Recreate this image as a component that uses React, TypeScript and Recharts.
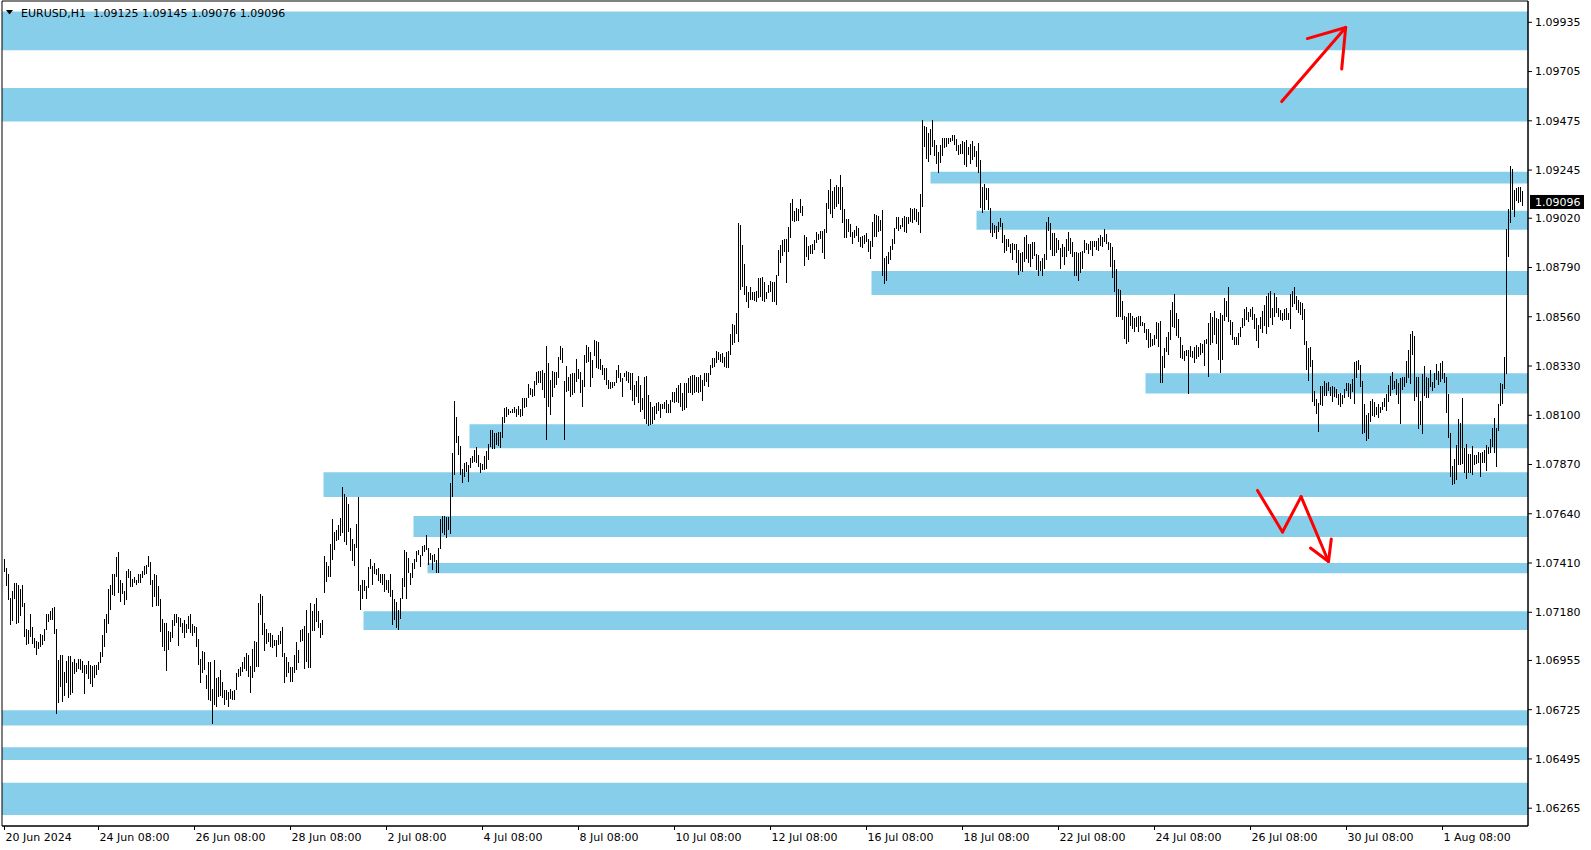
import { ComposedChart, Bar, XAxis, YAxis, ReferenceArea, ReferenceLine } from 'recharts';

const FONT = '"DejaVu Sans", Tahoma, sans-serif';
const ZONE = '#87CEEB';
const ARROW = '#FF0000';

// hourly bars, high / low in pips above BASE (1.06265 -> 626.5)
const BASE = 1.0;
const PIP = 0.0001;

const highs = [
  743.1, 738.5, 735.8, 724.8, 728.0, 731.8, 731.9, 730.7, 729.0, 730.5,
  722.1, 710.4, 709.6, 717.4, 711.1, 705.9, 704.5, 703.9, 707.8, 707.3,
  710.4, 717.4, 717.1, 718.4, 719.8, 720.4, 710.0, 695.7, 698.0, 698.0,
  690.2, 695.2, 697.5, 697.5, 694.7, 696.0, 694.4, 696.4, 696.4, 695.2,
  693.6, 693.6, 695.2, 693.3, 693.0, 693.3, 693.3, 694.6, 699.4, 707.5,
  714.8, 717.4, 728.8, 730.7, 735.8, 735.8, 743.6, 746.1, 733.0, 731.5,
  727.9, 737.4, 738.2, 737.1, 733.5, 734.3, 732.9, 735.8, 735.8, 737.4,
  739.4, 740.0, 744.2, 741.4, 733.0, 735.8, 735.3, 730.2, 724.1, 714.8,
  712.9, 712.8, 709.2, 708.7, 714.3, 717.1, 717.4, 715.7, 715.1, 712.8,
  714.3, 712.3, 716.2, 717.4, 712.5, 711.5, 711.2, 705.3, 696.1, 699.9,
  699.4, 688.6, 694.6, 694.6, 682.3, 695.5, 687.1, 687.9, 691.0, 685.4,
  681.6, 681.6, 680.9, 682.1, 681.3, 681.6, 689.7, 691.4, 692.5, 694.7,
  697.2, 699.1, 698.0, 693.0, 700.8, 704.5, 704.1, 722.4, 726.5, 725.5,
  712.8, 710.1, 708.4, 708.1, 707.6, 705.0, 705.0, 707.3, 709.2, 711.1,
  699.1, 697.2, 694.9, 692.5, 692.5, 698.0, 704.2, 700.2, 709.6, 710.1,
  711.7, 719.0, 708.1, 722.4, 718.7, 721.8, 724.8, 718.7, 712.8, 714.3,
  744.2, 741.6, 739.7, 749.8, 761.5, 755.4, 756.4, 758.7, 762.1, 776.3,
  773.0, 771.9, 768.5, 757.5, 752.0, 750.1, 759.2, 771.6, 730.7, 733.0,
  733.3, 730.2, 739.1, 742.7, 739.7, 740.8, 738.2, 738.5, 736.1,
  735.7, 735.7, 733.1, 733.1, 735.7, 728.4, 724.2, 723.0, 719.0, 724.8,
  733.8, 747.1, 746.3, 743.2, 736.5, 740.8, 742.9, 746.8, 747.1, 744.7,
  749.0, 749.4, 754.1, 747.9, 745.5, 744.7, 745.2, 742.4, 747.9, 761.4,
  763.0, 763.0, 762.6, 762.3, 778.2, 792.2, 816.8, 809.0, 800.3, 795.7,
  784.8, 787.6, 788.3, 786.8, 789.9, 791.0, 793.8, 795.3, 791.5, 787.9,
  787.2, 791.0, 793.5, 796.4, 803.1, 803.1, 801.9, 801.9, 802.3, 802.3,
  809.0, 813.6, 813.7, 812.8, 812.1, 812.8, 813.7, 812.8, 814.3, 812.8,
  817.9, 817.9, 817.9, 824.6, 822.6, 822.1, 826.0, 830.2, 830.8, 830.7,
  831.1, 829.9, 842.4, 834.6, 826.5, 830.8, 830.4, 830.1, 837.4, 842.4,
  841.3, 826.0, 833.0, 828.0, 829.3, 829.6, 829.9, 836.3, 831.5, 830.2,
  826.5, 838.2, 842.8, 842.0, 839.6, 835.8, 845.2, 844.9, 844.4, 836.3,
  833.5, 831.9, 831.9, 826.5, 825.7, 825.6, 825.7, 831.1, 833.5, 829.6,
  827.6, 829.9, 830.8, 830.4, 829.6, 829.9, 824.1, 825.9, 828.3, 824.1,
  817.9, 828.0, 828.3, 819.5, 816.4, 814.0, 814.3, 815.9, 816.4, 815.3,
  815.3, 816.4, 817.1, 815.3, 817.1, 820.9, 821.0, 822.6, 824.1, 824.9,
  820.3, 825.2, 824.9, 827.3, 828.3, 828.8, 828.8, 827.7, 828.0, 828.8,
  826.5, 829.9, 829.6, 829.6, 833.5, 836.6, 836.6, 840.2, 839.7, 838.6,
  839.0, 837.4, 839.7, 840.2, 848.0, 852.6, 852.2, 857.9, 900.0, 898.9,
  889.5, 880.7, 870.4, 867.7, 870.1, 867.7, 867.7, 868.0, 874.0, 874.0,
  874.6, 872.2, 867.6, 870.8, 872.6, 872.0, 872.2, 875.7, 887.1, 889.4,
  891.8, 892.5, 892.4, 898.0, 908.9, 910.9, 905.5, 907.0, 906.1, 911.2,
  907.7, 894.4, 893.2, 889.0, 889.4, 890.1, 891.8, 895.7, 894.6, 896.1,
  896.1, 896.8, 908.9, 915.1, 920.3, 914.7, 916.4, 917.5, 916.7, 922.1,
  916.4, 906.3, 901.6, 901.6, 899.1, 895.4, 896.4, 898.3, 897.5, 893.3,
  893.8, 894.1, 894.9, 892.5, 891.3, 900.3, 903.8, 903.4, 903.0, 901.1,
  905.8, 883.5, 884.5, 886.3, 889.0, 892.5, 897.5, 902.4, 902.4, 898.8,
  901.9, 903.0, 902.7, 902.7, 906.6, 906.1, 906.6, 906.1, 905.0, 913.3,
  947.8, 945.0, 944.7, 941.9, 943.5, 947.8, 938.5, 936.2, 933.0, 936.2,
  939.3, 939.7, 939.7, 939.3, 939.7, 940.8, 940.8, 938.8, 936.2, 936.5,
  938.0, 937.7, 938.5, 935.4, 936.6, 938.2, 935.7, 933.3, 937.1, 929.1,
  916.4, 918.2, 915.9, 915.9, 907.0, 899.6, 898.8, 898.3, 900.3, 901.9,
  899.9, 894.4, 892.2, 892.1, 889.8, 890.5, 890.2, 890.2, 887.4, 885.9,
  886.3, 893.3, 894.1, 889.9, 889.9, 890.7, 891.0, 885.2, 884.8, 882.1,
  883.5, 885.2, 900.3, 902.7, 899.9, 895.2, 895.2, 893.0, 891.8, 887.9,
  890.2, 888.4, 892.5, 895.7, 893.0, 891.0, 886.3, 886.3, 885.9, 886.3,
  886.8, 891.8, 890.5, 889.8, 891.3, 891.3, 891.3, 891.3, 893.0, 894.1,
  893.3, 896.8, 894.6, 891.0, 890.5, 888.7, 882.4, 878.1, 868.9, 868.4,
  863.4, 856.3, 855.7, 857.9, 857.9, 856.3, 855.2, 855.7, 856.3, 856.3,
  853.4, 852.9, 850.3, 850.3, 848.3, 845.6, 847.5, 853.4, 852.9, 854.0,
  837.7, 841.3, 846.4, 849.0, 859.2, 862.7, 866.6, 857.6, 855.0, 846.7,
  842.8, 840.0, 840.5, 840.5, 842.3, 840.0, 842.0, 842.8, 841.7, 843.6,
  843.1, 845.2, 845.6, 853.3, 857.6, 856.1, 858.7, 855.3, 855.0, 857.9,
  856.8, 864.9, 863.4, 870.1, 854.5, 853.7, 846.7, 846.7, 848.3, 851.4,
  855.3, 859.6, 860.4, 858.4, 859.6, 860.7, 857.1, 855.3, 852.2, 856.1,
  858.7, 861.5, 865.7, 866.9, 868.2, 860.0, 866.9, 865.1, 860.3, 859.2,
  857.6, 859.5, 860.0, 857.6, 866.6, 868.2, 870.1, 865.9, 863.8, 862.7,
  862.6, 859.6, 844.7, 841.6, 842.0, 835.8, 821.5, 817.4, 815.9, 823.7,
  823.7, 826.0, 825.2, 825.4, 823.4, 823.8, 823.4, 822.3, 819.9, 820.3,
  819.5, 822.3, 825.2, 825.2, 824.6, 826.9, 834.7, 835.5, 835.8, 833.5,
  826.0, 815.3, 810.1, 810.9, 816.7, 817.6, 816.0, 814.0, 815.3, 814.0,
  816.0, 817.9, 819.9, 824.1, 828.3, 830.0, 826.0, 826.8, 825.2, 827.5,
  827.7, 827.7, 835.5, 840.5, 848.0, 849.4, 847.0, 827.7, 827.7, 816.8,
  829.3, 833.0, 827.7, 827.2, 831.1, 825.7, 829.9, 833.9, 830.8, 834.3,
  835.3, 829.6, 827.7, 819.8, 801.9, 786.3, 789.4, 796.1, 808.1, 806.2,
  817.9, 794.9, 796.4, 791.9, 791.9, 795.6, 791.4, 791.4, 793.0, 792.2,
  793.0, 793.8, 796.1, 795.0, 798.8, 803.9, 808.6, 803.9, 815.3, 824.9,
  824.6, 837.0, 896.8, 906.2, 926.4, 924.8, 915.2, 915.9, 916.7, 916.4, 914.5,
];

const lows = [
  736.9, 730.2, 723.7, 712.0, 714.0, 724.0, 712.5, 712.8, 716.2, 720.6,
  706.6, 702.8, 703.4, 706.6, 703.3, 701.4, 698.0, 700.8, 701.9, 702.8,
  704.7, 709.7, 713.6, 714.6, 714.3, 707.8, 670.6, 675.7, 683.2, 676.2,
  679.0, 684.8, 678.1, 679.3, 680.4, 689.1, 690.2, 691.3, 691.0, 689.7,
  679.9, 689.4, 686.9, 684.6, 683.2, 687.4, 688.8, 691.0, 694.4, 697.2,
  701.9, 708.4, 712.5, 719.0, 725.9, 725.7, 734.3, 726.8, 722.9, 726.5,
  721.5, 723.7, 734.1, 729.9, 729.9, 731.5, 730.7, 731.8, 731.9, 733.8,
  735.4, 735.8, 739.2, 730.7, 720.6, 725.2, 720.9, 720.9, 708.7, 701.9,
  699.9, 690.7, 700.6, 704.1, 706.2, 711.5, 712.8, 702.3, 711.2, 708.1,
  705.8, 708.4, 710.4, 708.4, 707.0, 708.1, 701.9, 693.5, 685.2, 689.7,
  691.0, 682.0, 676.9, 676.7, 666.0, 674.6, 673.9, 678.5, 679.1, 678.1,
  674.6, 676.9, 673.9, 677.3, 676.9, 676.9, 681.6, 687.9, 688.2, 690.2,
  691.3, 690.7, 687.9, 680.4, 687.1, 690.2, 692.5, 692.5, 716.7, 707.3,
  700.0, 703.0, 704.1, 701.9, 701.1, 702.3, 697.2, 702.7, 703.4, 697.2,
  685.2, 687.6, 689.7, 685.5, 685.5, 689.7, 691.0, 694.4, 704.2, 704.7,
  691.4, 694.9, 692.2, 692.2, 709.4, 709.4, 713.6, 710.8, 705.8, 707.6,
  727.1, 732.1, 734.6, 734.6, 742.4, 747.0, 751.4, 751.7, 753.7, 755.1,
  750.9, 749.5, 755.6, 746.7, 742.0, 739.7, 748.1, 728.0, 719.0, 724.0,
  728.0, 724.0, 729.1, 738.0, 730.7, 735.7, 735.4, 732.7, 731.9,
  730.7, 727.6, 728.4, 726.8, 725.3, 712.1, 714.4, 710.5, 709.7, 714.7,
  724.0, 730.0, 724.0, 736.2, 730.7, 733.8, 738.0, 741.6, 744.7, 739.3,
  744.3, 746.3, 747.1, 740.1, 742.4, 737.7, 741.6, 736.2, 736.5, 747.4,
  755.2, 754.1, 752.5, 756.4, 754.6, 771.7, 782.1, 796.9, 791.5, 782.1,
  778.2, 781.3, 783.7, 779.0, 785.2, 787.6, 788.3, 787.6, 786.0, 783.2,
  784.4, 784.4, 784.8, 789.1, 795.3, 794.1, 794.1, 796.1, 795.6, 794.6,
  799.2, 806.6, 809.0, 810.1, 810.9, 811.2, 810.9, 809.0, 810.1, 809.4,
  809.7, 813.2, 813.7, 817.9, 819.5, 818.7, 819.0, 824.1, 825.2, 824.9,
  821.8, 817.9, 798.5, 814.0, 810.1, 818.7, 822.6, 824.1, 827.6, 835.8,
  834.3, 798.5, 821.0, 821.5, 818.7, 819.5, 820.3, 825.7, 826.8, 820.6,
  814.0, 823.4, 834.6, 835.0, 823.4, 827.3, 837.7, 831.9, 831.5, 831.1,
  828.8, 826.5, 824.1, 822.1, 822.1, 822.6, 823.7, 825.2, 827.3, 825.7,
  818.7, 827.7, 826.0, 825.2, 821.8, 816.8, 814.8, 818.7, 815.6, 811.7,
  812.5, 808.1, 805.9, 805.0, 805.5, 805.9, 807.8, 810.6, 812.1, 808.6,
  812.8, 812.8, 810.9, 810.9, 811.2, 816.4, 815.6, 816.4, 815.6, 814.0,
  812.1, 812.5, 813.2, 820.3, 820.3, 819.5, 820.3, 821.0, 820.3, 821.0,
  816.8, 823.7, 825.7, 823.1, 828.8, 831.9, 832.7, 834.6, 835.8, 835.0,
  834.3, 832.7, 831.9, 832.2, 838.2, 842.8, 843.6, 848.0, 844.4, 868.5,
  870.1, 866.2, 863.1, 860.0, 863.9, 863.9, 863.5, 863.1, 864.6, 865.4,
  863.4, 863.1, 864.5, 867.2, 867.6, 863.0, 862.7, 861.7, 875.1, 881.2,
  884.5, 886.3, 871.8, 886.3, 892.9, 900.8, 900.3, 900.7, 900.7, 904.5,
  903.0, 879.8, 884.0, 882.7, 885.1, 885.2, 887.4, 890.5, 891.8, 892.1,
  885.9, 883.2, 895.2, 906.4, 903.9, 901.9, 906.3, 907.3, 908.6, 905.8,
  899.6, 892.9, 892.9, 895.7, 893.3, 889.9, 892.6, 893.6, 891.0, 888.7,
  888.2, 890.2, 891.0, 886.3, 883.2, 888.7, 893.3, 893.3, 895.7, 896.0,
  875.1, 871.5, 872.8, 880.6, 882.4, 887.4, 890.2, 897.2, 896.1, 896.8,
  898.0, 895.7, 895.2, 899.3, 900.3, 899.9, 901.1, 900.3, 898.8, 894.9,
  907.3, 935.4, 929.9, 928.4, 931.5, 935.4, 931.2, 927.3, 923.2, 927.9,
  931.0, 934.6, 935.4, 936.9, 937.7, 938.2, 936.2, 933.5, 931.5, 931.8,
  931.8, 926.8, 926.0, 931.5, 927.3, 929.1, 930.7, 926.0, 923.2, 906.6,
  904.5, 905.8, 910.5, 905.8, 895.2, 893.3, 895.2, 892.1, 895.7, 898.0,
  890.5, 885.9, 886.8, 888.4, 885.6, 882.7, 887.1, 881.2, 875.4, 877.3,
  877.0, 881.7, 883.2, 880.9, 879.0, 883.2, 884.5, 877.8, 875.1, 877.5,
  875.1, 878.1, 882.4, 896.1, 887.1, 884.5, 884.5, 885.6, 887.1, 878.5,
  883.7, 880.1, 884.0, 886.8, 885.2, 884.0, 875.1, 875.1, 872.8, 876.2,
  878.1, 885.9, 887.1, 885.2, 887.4, 884.3, 888.7, 887.1, 886.8, 889.0,
  888.4, 891.0, 890.2, 887.4, 879.0, 873.9, 867.6, 856.0, 855.7, 856.0,
  854.7, 845.4, 843.5, 844.3, 851.6, 850.5, 849.0, 851.3, 849.0, 851.6,
  851.7, 848.3, 845.2, 841.6, 842.0, 842.5, 842.8, 845.6, 842.0, 825.2,
  825.2, 832.2, 839.7, 838.1, 845.2, 851.4, 850.6, 847.2, 845.9, 836.6,
  836.1, 835.5, 837.7, 819.9, 837.4, 836.9, 834.6, 836.1, 837.4, 838.1,
  839.2, 833.0, 843.3, 828.0, 842.8, 843.6, 847.5, 843.3, 835.8, 829.9,
  835.8, 854.2, 856.1, 853.7, 847.5, 845.2, 842.8, 842.8, 842.8, 846.4,
  850.9, 851.7, 854.5, 853.7, 856.1, 854.5, 850.3, 844.7, 841.6, 850.3,
  848.3, 851.7, 848.0, 851.4, 855.3, 852.2, 856.1, 857.6, 855.7, 854.5,
  854.0, 854.5, 854.5, 854.5, 850.3, 860.4, 862.0, 859.2, 857.9, 856.8,
  854.5, 842.8, 831.1, 826.0, 832.7, 816.3, 814.3, 810.6, 802.3, 814.8,
  814.3, 819.2, 819.0, 821.5, 819.2, 816.3, 818.7, 817.9, 814.8, 814.0,
  815.3, 817.9, 821.5, 818.7, 817.4, 820.7, 815.3, 827.6, 831.1, 823.4,
  801.2, 801.6, 798.1, 798.8, 806.7, 809.6, 809.3, 810.1, 808.6, 810.9,
  812.4, 814.0, 812.1, 816.3, 819.0, 821.8, 822.1, 819.5, 815.3, 805.9,
  821.8, 823.0, 824.9, 827.2, 824.6, 838.1, 816.8, 818.7, 803.6, 805.5,
  801.2, 819.0, 817.9, 817.9, 823.0, 821.5, 822.6, 826.5, 824.1, 825.7,
  826.8, 825.2, 810.9, 799.2, 781.0, 777.4, 777.9, 779.8, 786.8, 786.8,
  787.2, 783.2, 780.1, 782.9, 783.2, 782.1, 786.8, 787.2, 787.5, 781.3,
  787.9, 787.9, 784.1, 791.9, 792.2, 795.0, 792.5, 786.0, 802.8, 814.3,
  815.3, 822.3, 829.3, 884.1, 900.0, 905.8, 902.7, 910.2, 908.9, 909.7, 907.6,
];

const symbol = 'EURUSD,H1';
const lastBar = { open: 1.09125, high: 1.09145, low: 1.09076, close: 1.09096 };

const dateTicks = [0, 47, 95, 143, 191, 239, 287, 335, 383, 431, 479, 527, 575, 623, 671, 719];
const dateLabels = [
  '20 Jun 2024', '24 Jun 08:00', '26 Jun 08:00', '28 Jun 08:00', '2 Jul 08:00', '4 Jul 08:00',
  '8 Jul 08:00', '10 Jul 08:00', '12 Jul 08:00', '16 Jul 08:00', '18 Jul 08:00', '22 Jul 08:00',
  '24 Jul 08:00', '26 Jul 08:00', '30 Jul 08:00', '1 Aug 08:00',
];

const priceTicks = [
  1.09935, 1.09705, 1.09475, 1.09245, 1.0902, 1.0879, 1.0856, 1.0833, 1.081,
  1.0787, 1.0764, 1.0741, 1.0718, 1.06955, 1.06725, 1.06495, 1.06265,
];

// support / resistance boxes: first bar index, bottom price, top price
const zoneFrom = [-1.25, -1.25, 463, 486, 433.5, 570.5, 232.5, 159.5, 204.5, 211.5, 179.5, -1.25, -1.25, -1.25];
const zoneLow = [1.09805, 1.09472, 1.09182, 1.08966, 1.08662, 1.08202, 1.07946, 1.07718, 1.07531, 1.07362, 1.07097, 1.06651, 1.0649, 1.06233];
const zoneHigh = [1.09986, 1.09628, 1.09237, 1.09055, 1.08774, 1.08296, 1.08058, 1.07834, 1.07629, 1.0741, 1.07185, 1.06722, 1.0655, 1.06384];

// hand drawn arrows: [bar index, price]
const arrowUp = [[638.6, 1.09565], [670.6, 1.09911]];
const arrowUpHead = [[651.4, 1.09859], [670.6, 1.09911], [668.6, 1.09717]];
const arrowDown = [[626.5, 1.07749], [639, 1.07555], [648.3, 1.0772], [662, 1.07417]];
const arrowDownHead = [[653, 1.0748], [662, 1.07417], [663.4, 1.07522]];

const X_MIN = -1.25;
const X_MAX = 761.75;
const Y_MIN = 1.061819;
const Y_MAX = 1.100345;

const count = Math.min(highs.length, lows.length);
const data = Array.from({ length: count }, (_, i) => ({
  i,
  range: [BASE + lows[i] * PIP, BASE + highs[i] * PIP],
}));

const HLBar = (props: any) => {
  const { x, y, width, height } = props;
  if (![x, y, width, height].every((v) => typeof v === 'number' && isFinite(v))) return <g />;
  const cx = Math.round(x + width / 2 - 0.5);
  const top = Math.min(y, y + height);
  const h = Math.max(1, Math.abs(height));
  return <rect x={cx} y={top} width={1} height={h} fill="#000" shapeRendering="crispEdges" />;
};

const DateTick = (props: any) => {
  const { x, y, payload } = props;
  const k = dateTicks.indexOf(payload.value);
  return (
    <text x={x + 1} y={y} dy="0.71em" textAnchor="start" fontSize={11} fontFamily={FONT} fill="#000">
      {dateLabels[k]}
    </text>
  );
};

const PriceTag = (props: any) => {
  const vb = props.viewBox || {};
  const left = (vb.x || 0) + (vb.width || 0) + 2;
  const y = vb.y || 0;
  return (
    <g>
      <rect x={left} y={y - 7} width={54} height={14} fill="#000" />
      <text x={left + 5} y={y} dy="0.355em" fontSize={11} fontFamily={FONT} fill="#fff">
        {lastBar.close.toFixed(5)}
      </text>
    </g>
  );
};

function segments(points: number[][], key: string) {
  const out = [];
  for (let k = 0; k < points.length - 1; k++) {
    out.push(
      <ReferenceLine
        key={key + k}
        segment={[{ x: points[k][0], y: points[k][1] }, { x: points[k + 1][0], y: points[k + 1][1] }]}
        stroke={ARROW}
        strokeWidth={3}
        strokeLinecap="round"
        ifOverflow="visible"
      />
    );
  }
  return out;
}

export default function App() {
  const title = `${symbol}\u00a0\u00a0${lastBar.open.toFixed(5)} ${lastBar.high.toFixed(5)} ${lastBar.low.toFixed(5)} ${lastBar.close.toFixed(5)}`;
  return (
    <div style={{ position: 'absolute', left: 0, top: 0, width: 1591, height: 850, background: '#fff' }}>
      <ComposedChart width={1591} height={850} data={data} margin={{ top: 1, right: 0, bottom: 0, left: 2 }}>
        <XAxis
          dataKey="i"
          type="number"
          domain={[X_MIN, X_MAX]}
          ticks={dateTicks}
          interval={0}
          height={24}
          tickSize={4}
          tickMargin={3}
          tick={<DateTick />}
          axisLine={{ stroke: '#000' }}
          tickLine={{ stroke: '#000' }}
        />
        <YAxis
          orientation="right"
          type="number"
          domain={[Y_MIN, Y_MAX]}
          ticks={priceTicks}
          interval={0}
          width={63}
          tickSize={4}
          tickMargin={3}
          tickFormatter={(v: number) => v.toFixed(5)}
          tick={{ fill: '#000', fontSize: 11, fontFamily: FONT }}
          axisLine={{ stroke: '#000' }}
          tickLine={{ stroke: '#000' }}
        />
        {zoneFrom.map((from, k) => (
          <ReferenceArea
            key={'z' + k}
            x1={from}
            x2={X_MAX}
            y1={zoneLow[k]}
            y2={zoneHigh[k]}
            fill={ZONE}
            fillOpacity={1}
            stroke="none"
          />
        ))}
        <Bar dataKey="range" barSize={1} shape={HLBar} isAnimationActive={false} />
        {segments(arrowUp, 'au')}
        {segments(arrowUpHead, 'ah')}
        {segments(arrowDown, 'ad')}
        {segments(arrowDownHead, 'dh')}
        <ReferenceLine y={lastBar.close} stroke="none" ifOverflow="visible" label={(p: any) => <PriceTag {...p} />} />
        <ReferenceArea x1={X_MIN} x2={X_MAX} y1={Y_MIN} y2={Y_MAX} fill="none" stroke="#000" />
      </ComposedChart>
      <svg style={{ position: 'absolute', left: 0, top: 0 }} width={320} height={22}>
        <polygon points="6,10 13,10 9.5,14.5" fill="#000" />
        <text x={21} y={17} fontSize={11} fontFamily={FONT} fill="#000">
          {title}
        </text>
      </svg>
    </div>
  );
}
